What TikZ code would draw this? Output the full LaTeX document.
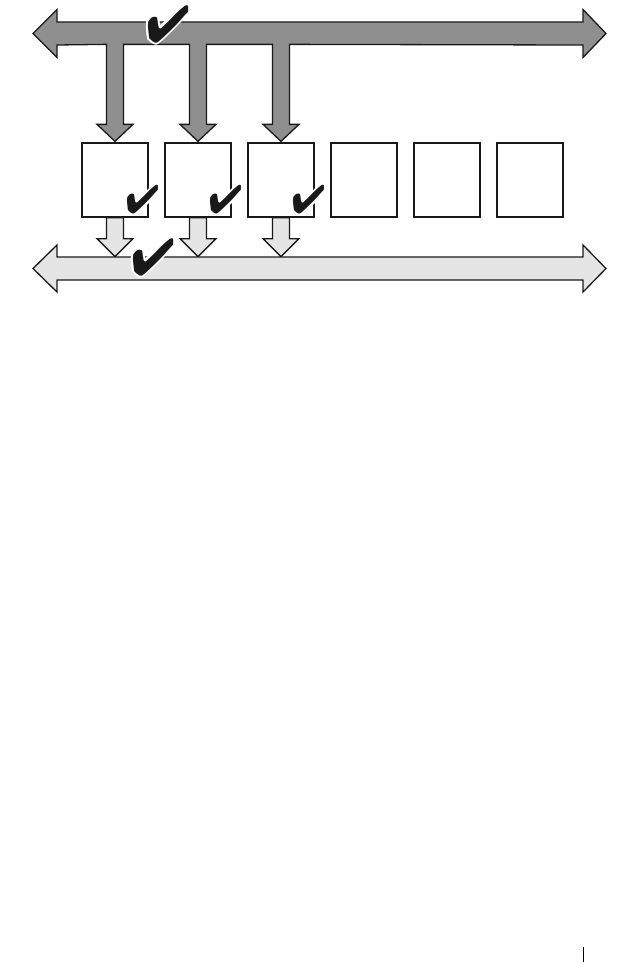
\documentclass[tikz,border=0pt]{standalone}
\usepackage{pifont}
\usepackage{tikz}
\usetikzlibrary{calc}

% check mark with a white rim, set as one text
\newcommand{\rimcopy}[2]{\rlap{\hspace*{#1}\raisebox{#2}{\color{white}\ding{52}}}}
\newcommand{\rimtick}{%
    \rimcopy{2pt}{0pt}\rimcopy{-2pt}{0pt}\rimcopy{0pt}{2pt}\rimcopy{0pt}{-2pt}%
    \rimcopy{1.5pt}{1.5pt}\rimcopy{-1.5pt}{1.5pt}\rimcopy{1.5pt}{-1.5pt}\rimcopy{-1.5pt}{-1.5pt}%
    \ding{52}}

\begin{document}
\begin{tikzpicture}[x=1pt, y=-1pt, line join=miter,
    bx/.style={draw=black!90, line width=1.3pt, fill=white, inner sep=0pt,
        minimum width=66pt, minimum height=74pt},
    bus/.style={draw=black!90, line width=1.3pt},
    tk/.style={inner sep=0pt, text=black!90, font=\fontsize{#1}{#1}\selectfont}]
\useasboundingbox (0,0) rectangle (641,962);
% units
\foreach \i in {1,...,6}
    \node[bx] (b\i) at ({115+83*(\i-1)},180) {};
% top bus with its three drops
\draw[bus, fill=black!44] (33,33.5) -- (57,9.5) -- (57,22) -- (583,22) -- (583,9.5)
    -- (606,33.5) -- (583,57.5) -- (583,45)
    \foreach \i in {3,2,1} {
        -- ($(b\i.north)+(8.5,-98)$) -- ($(b\i.north)+(8.5,-18)$)
        -- ($(b\i.north)+(18,-18)$) -- ($(b\i.north)+(0,-1)$)
        -- ($(b\i.north)+(-18,-18)$) -- ($(b\i.north)+(-8.5,-18)$)
        -- ($(b\i.north)+(-8.5,-98)$)
    }
    -- (57,45) -- (57,57.5) -- cycle;
% drops to the lower bus
\foreach \i in {1,2,3} {
    \draw[bus, fill=black!10] ($(b\i.south)+(-8.5,0)$) -- ++(17,0) -- ++(0,21)
        -- ++(9.5,0) -- ($(b\i.south)+(0,39)$) -- ($(b\i.south)+(-18,21)$)
        -- ++(9.5,0) -- cycle;
}
% lower bus
\draw[bus, fill=black!10] (33,268.5) -- (57,245) -- (57,257) -- (583,257) -- (583,245)
    -- (606,268.5) -- (583,292) -- (583,280) -- (57,280) -- (57,292) -- cycle;
% ticks
\node[tk=52] (ct) at (168,24) {\rimtick};
\node[tk=52] (cb) at (153,257) {\rimtick};
\foreach \i in {1,2,3}
    \node[tk=40] (c\i) at ($(b\i.south east)+(-6,-18)$) {\rimtick};
% page mark
\draw[line width=1pt] (583,947) coordinate (pm1) -- (583,962) coordinate (pm2);
\end{tikzpicture}
\end{document}
